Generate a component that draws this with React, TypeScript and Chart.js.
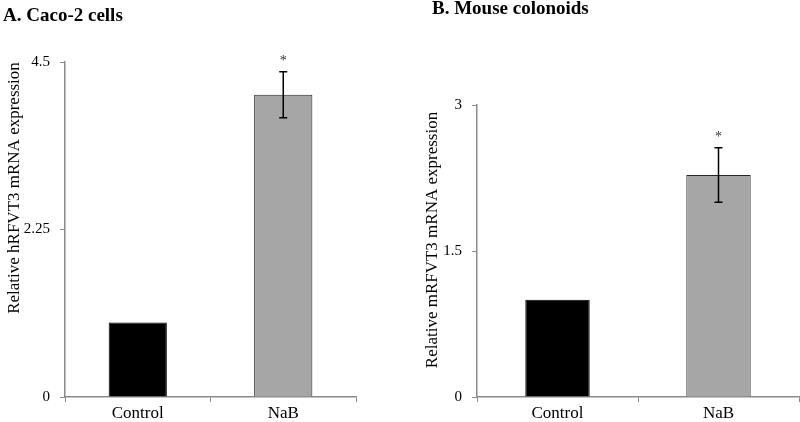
import React, { useEffect, useRef } from "react";
import { Chart, registerables } from "chart.js";

Chart.register(...registerables);

const categories = ["Control", "NaB"];
const caco2Values = [1.0, 4.06];
const caco2Errors = [0, 0.31];
const caco2Ticks = [0, 2.25, 4.5];
const colonoidValues = [1.0, 2.28];
const colonoidErrors = [0, 0.28];
const colonoidTicks = [0, 1.5, 3];
const significance = ["", "*"];
const barColors = ["#000000", "#a6a6a6"];
const barBorders = ["#000000", "#262626"];

const SERIF = "'Liberation Serif', 'Times New Roman', serif";
const AXIS = "#8a8a8a";

type PanelProps = {
  values: number[];
  errors: number[];
  ticks: number[];
  title: string;
  yTitle: string;
  left: number;
  yWidth: number;
  padTop: number;
  padRight: number;
  titlePos: [number, number];
  yTitlePos: [number, number];
};

function Panel(p: PanelProps) {
  const ref = useRef<HTMLCanvasElement | null>(null);
  useEffect(() => {
    if (!ref.current) return;
    const annotate = {
      id: "annotate",
      afterDatasetsDraw(chart: any) {
        const { ctx } = chart;
        const y = chart.scales.y;
        const meta = chart.getDatasetMeta(0);
        ctx.save();
        p.errors.forEach((e, i) => {
          const bx = meta.data[i].x;
          const top = y.getPixelForValue(p.values[i] + e);
          if (e) {
            const bot = y.getPixelForValue(p.values[i] - e);
            ctx.strokeStyle = "#000";
            ctx.lineWidth = 1.5;
            ctx.beginPath();
            ctx.moveTo(bx, top);
            ctx.lineTo(bx, bot);
            ctx.moveTo(bx - 4, top);
            ctx.lineTo(bx + 4, top);
            ctx.moveTo(bx - 4, bot);
            ctx.lineTo(bx + 4, bot);
            ctx.stroke();
          }
          if (significance[i]) {
            ctx.fillStyle = "#333";
            ctx.font = `14px ${SERIF}`;
            ctx.textAlign = "center";
            ctx.textBaseline = "middle";
            ctx.fillText(significance[i], bx, top - 10);
          }
        });
        ctx.restore();
      },
      afterDraw(chart: any) {
        const { ctx } = chart;
        ctx.save();
        ctx.fillStyle = "#000";
        ctx.font = `bold 19px ${SERIF}`;
        ctx.textAlign = "left";
        ctx.textBaseline = "alphabetic";
        ctx.fillText(p.title, p.titlePos[0], p.titlePos[1]);
        ctx.translate(p.yTitlePos[0], p.yTitlePos[1]);
        ctx.rotate(-Math.PI / 2);
        ctx.font = `17px ${SERIF}`;
        ctx.textAlign = "center";
        ctx.textBaseline = "middle";
        ctx.fillText(p.yTitle, 0, 0);
        ctx.restore();
      },
    };
    const chart = new Chart(ref.current, {
      type: "bar",
      data: {
        labels: categories,
        datasets: [
          {
            data: p.values,
            backgroundColor: barColors,
            borderColor: barBorders,
            borderWidth: 1,
            barPercentage: 0.4,
            categoryPercentage: 1,
          },
        ],
      },
      options: {
        responsive: false,
        animation: false,
        events: [],
        layout: { padding: { top: p.padTop, right: p.padRight, left: 0, bottom: 0 } },
        plugins: { legend: { display: false }, tooltip: { enabled: false }, title: { display: false } },
        scales: {
          x: {
            afterFit(scale: any) {
              scale.height = 25;
            },
            grid: { drawOnChartArea: false, color: AXIS, tickLength: 5, lineWidth: 1 },
            border: { color: AXIS, width: 1.5 },
            ticks: { color: "#000", font: { family: SERIF, size: 17 }, padding: 1 },
          },
          y: {
            min: 0,
            max: p.ticks[p.ticks.length - 1],
            afterFit(scale: any) {
              scale.width = p.yWidth;
            },
            afterBuildTicks(scale: any) {
              scale.ticks = p.ticks.map((v) => ({ value: v }));
            },
            grid: { drawOnChartArea: false, color: AXIS, tickLength: 5, lineWidth: 1 },
            border: { color: AXIS, width: 1.5 },
            ticks: {
              color: "#000",
              font: { family: SERIF, size: 15 },
              padding: 10,
              callback: (v: any) => String(v),
            },
          },
        },
      },
      plugins: [annotate],
    });
    return () => chart.destroy();
  }, []);
  return (
    <canvas
      ref={ref}
      width={400}
      height={422}
      style={{ position: "absolute", left: p.left, top: 0, width: 400, height: 422 }}
    />
  );
}

export default function App() {
  return (
    <div style={{ position: "fixed", left: 0, top: 0, width: 800, height: 422, background: "#fff" }}>
      <Panel
        values={caco2Values}
        errors={caco2Errors}
        ticks={caco2Ticks}
        title="A. Caco-2 cells"
        yTitle="Relative hRFVT3 mRNA expression"
        left={0}
        yWidth={65}
        padTop={62}
        padRight={44}
        titlePos={[3, 21]}
        yTitlePos={[15, 188]}
      />
      <Panel
        values={colonoidValues}
        errors={colonoidErrors}
        ticks={colonoidTicks}
        title="B. Mouse colonoids"
        yTitle="Relative mRFVT3 mRNA expression"
        left={400}
        yWidth={77}
        padTop={105}
        padRight={1}
        titlePos={[32, 14]}
        yTitlePos={[33, 240]}
      />
    </div>
  );
}
